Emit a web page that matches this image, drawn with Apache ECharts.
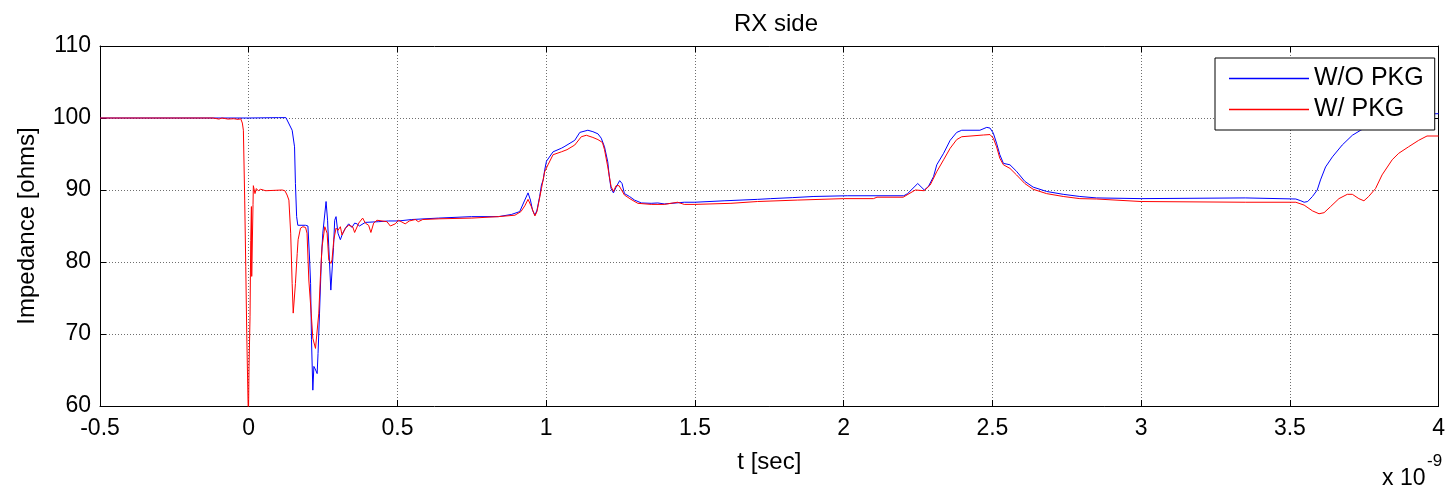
<!DOCTYPE html>
<html>
<head>
<meta charset="utf-8">
<script src="https://cdn.jsdelivr.net/npm/echarts@6/dist/echarts.min.js"></script>
<style>
html,body{margin:0;padding:0;background:#fff;}
#chart{width:1448px;height:488px;}
</style>
</head>
<body>
<div id="chart"></div>
<script>
// ---- Data (time in units of 1e-9 s, impedance in ohms) ----
var xTicks = [-0.5, 0, 0.5, 1, 1.5, 2, 2.5, 3, 3.5, 4];
var yTicks = [60, 70, 80, 90, 100, 110];

var woPkgT = [-0.5, 0.0, 0.10, 0.125, 0.13, 0.146, 0.154, 0.157, 0.161, 0.165, 0.191, 0.199, 0.205, 0.208,
  0.211, 0.2155, 0.219, 0.225, 0.230, 0.233, 0.238, 0.2445, 0.249, 0.256, 0.260, 0.265, 0.269, 0.276,
  0.280, 0.285, 0.289, 0.2935, 0.300, 0.308, 0.316, 0.325, 0.3305, 0.336, 0.347, 0.356, 0.364, 0.372,
  0.392, 0.437, 0.47, 0.504, 0.548, 0.638, 0.749, 0.839, 0.883, 0.911, 0.928, 0.939, 0.947, 0.954,
  0.962, 0.969, 0.978, 0.984, 0.990, 0.995, 1.001, 1.006, 1.023, 1.051, 1.060, 1.096, 1.113, 1.140,
  1.157, 1.174, 1.185, 1.196, 1.207, 1.212, 1.218, 1.226, 1.235, 1.247, 1.255, 1.263, 1.280, 1.297,
  1.320, 1.353, 1.375, 1.397, 1.464, 1.50, 1.598, 1.71, 1.755, 1.827, 1.9, 2.012, 2.202, 2.215, 2.249,
  2.271, 2.285, 2.302, 2.313, 2.336, 2.358, 2.380, 2.397, 2.458, 2.481, 2.492, 2.503, 2.514, 2.525,
  2.537, 2.559, 2.581, 2.609, 2.637, 2.682, 2.738, 2.794, 2.850, 3.0, 3.35, 3.52, 3.537, 3.548, 3.56,
  3.576, 3.592, 3.603, 3.620, 3.643, 3.676, 3.710, 3.738, 3.78, 3.85, 3.92, 4.0];
var woPkgZ = [100, 100, 100.05, 100.05, 100, 98.3, 96.0, 90.9, 86.3, 85.1, 85.1, 85.0, 80, 77.0,
  69.2, 62.2, 65.5, 65.0, 64.5, 67.3, 72.9, 80.7, 84.0, 86.8, 88.4, 85.8, 82.1, 76.1,
  76.1, 82.0, 85.8, 86.3, 84.0, 83.1, 84.0, 84.7, 85.0, 85.3, 84.8, 85.4, 85.3, 85.0,
  85.5, 85.6, 85.7, 85.7, 85.9, 86.1, 86.3, 86.3, 86.6, 87.0, 88.6, 89.6, 88.6, 87.2,
  86.5, 87.2, 89.1, 90.7, 91.4, 92.8, 94.0, 94.2, 95.3, 95.8, 96.0, 96.9, 98.0, 98.3,
  98.1, 97.8, 97.2, 96.0, 93.9, 91.9, 90.2, 89.6, 90.4, 91.3, 90.9, 89.5, 89.1, 88.6,
  88.2, 88.15, 88.2, 88.06, 88.3, 88.3, 88.5, 88.7, 88.8, 88.94, 89.1, 89.2, 89.2, 89.5, 90.9,
  90.0, 90.5, 91.85, 93.5, 95.1, 96.9, 98.0, 98.3, 98.3, 98.7, 98.6, 97.9, 96.5, 94.9,
  93.7, 93.5, 92.6, 91.2, 90.4, 89.8, 89.4, 89.1, 88.9, 88.8, 88.9, 88.75, 88.5, 88.3, 88.4,
  89.1, 90.0, 91.4, 93.2, 94.6, 96.25, 97.6, 98.3, 99.3, 100.1, 100.5, 100.6];

var wPkgT = [-0.5, -0.12, -0.10, -0.09, -0.07, -0.05, -0.035, -0.027, -0.0215, -0.018, -0.0135, -0.010,
  -0.0067, -0.0023, -0.001, 0.001, 0.0044, 0.0067, 0.009, 0.010, 0.012, 0.0144, 0.0155, 0.021, 0.0255,
  0.032, 0.040, 0.057, 0.1125, 0.1215, 0.129, 0.135, 0.141, 0.146, 0.1495, 0.155, 0.157, 0.163, 0.166,
  0.174, 0.182, 0.191, 0.196, 0.202, 0.210, 0.2155, 0.2245, 0.231, 0.2355, 0.241, 0.2465, 0.2557,
  0.2635, 0.269, 0.276, 0.280, 0.286, 0.2935, 0.300, 0.308, 0.3137, 0.325, 0.336, 0.3495, 0.356,
  0.3697, 0.383, 0.392, 0.403, 0.4107, 0.420, 0.431, 0.448, 0.4645, 0.476, 0.4926, 0.5037, 0.526,
  0.54, 0.56, 0.57, 0.585, 0.64, 0.75, 0.839, 0.895, 0.915, 0.928, 0.939, 0.95, 0.962, 0.969, 0.984,
  0.995, 1.006, 1.023, 1.051, 1.07, 1.096, 1.118, 1.135, 1.157, 1.174, 1.189, 1.196, 1.207, 1.218,
  1.226, 1.235, 1.245, 1.263, 1.285, 1.308, 1.353, 1.397, 1.442, 1.464, 1.50, 1.621, 1.71, 1.844,
  2.0, 2.10, 2.112, 2.20, 2.241, 2.271, 2.291, 2.313, 2.336, 2.358, 2.380, 2.397, 2.470, 2.492,
  2.503, 2.514, 2.525, 2.537, 2.559, 2.581, 2.609, 2.637, 2.682, 2.738, 2.794, 2.850, 3.0, 3.35,
  3.52, 3.548, 3.576, 3.598, 3.615, 3.637, 3.665, 3.693, 3.71, 3.732, 3.749, 3.765, 3.788, 3.810,
  3.844, 3.866, 3.899, 3.933, 3.961, 4.0];
var wPkgZ = [100, 100, 99.85, 100, 99.85, 99.9, 99.8, 99.9, 99.3, 98.3, 88.6, 79.4,
  70.1, 60.4, 58, 65.5, 72.4, 83.0, 87.7, 78.0, 78.0, 88.0, 90.6, 89.5, 90.2,
  89.9, 90.1, 89.9, 90.0, 89.9, 89.3, 88.6, 84.0, 77.0, 72.9, 72.9, 77.0, 81.2, 83.1,
  84.7, 84.9, 84.8, 84.0, 77.5, 72.9, 69.4, 68.0, 68.0, 72.9, 78.0, 82.1, 84.9,
  84.0, 80.3, 79.8, 80.3, 83.1, 84.7, 84.4, 84.9, 83.75, 84.7, 85.1, 84.9, 84.1,
  85.4, 86.1, 85.4, 85.1, 84.1, 85.4, 85.8, 85.7, 85.6, 85.0, 85.3, 85.8, 85.3,
  85.7, 85.9, 85.6, 85.9, 86.0, 86.1, 86.3, 86.5, 87.0, 87.8, 88.7, 87.7, 86.4, 87.0, 90.2,
  92.55, 93.5, 94.9, 95.3, 95.6, 96.25, 97.4, 97.6, 97.3, 97.0, 96.6, 95.6, 93.2, 90.5,
  89.8, 90.6, 90.6, 89.3, 88.7, 88.15, 88.0, 88.0, 88.3, 88.0, 88.0, 88.15, 88.4, 88.6,
  88.8, 88.8, 89.0, 89.0, 90.0, 89.9, 90.7, 92.55, 94.2, 95.8, 97.0, 97.4, 97.64, 97.7,
  97.2, 96.0, 94.4, 93.5, 93.0, 92.1, 90.9, 90.1, 89.5, 89.1, 88.8, 88.75, 88.4, 88.3,
  88.3, 87.9, 87.1, 86.7, 86.85, 87.7, 88.8, 89.4, 89.4, 88.8, 88.5, 89.1, 90.2, 92.1,
  94.2, 95.1, 96.0, 96.9, 97.5, 97.5];

function pairs(t, z) { return t.map(function (v, i) { return [v, z[i]]; }); }

var FONT = '"Liberation Sans", Arial, sans-serif';
var chart = echarts.init(document.getElementById('chart'), null, { renderer: 'canvas' });

var gridLine = { show: true, lineStyle: { color: '#6e6e6e', type: [1, 2], width: 1 } };
var axisLineBlack = { show: true, onZero: false, lineStyle: { color: '#000', width: 1 } };

chart.setOption({
  animation: false,
  backgroundColor: '#fff',
  title: {
    text: 'RX side', left: 771, top: 7, textAlign: 'center',
    textStyle: { fontFamily: FONT, fontSize: 24, fontWeight: 'normal', color: '#000' }
  },
  grid: { left: 100, right: 6, top: 46, bottom: 82 },
  legend: {
    orient: 'vertical', left: 1215, top: 58,
    backgroundColor: '#fff', borderColor: '#000', borderWidth: 1,
    padding: [8, 11, 8, 14], itemGap: 6, itemWidth: 80, itemHeight: 1.5,
    icon: 'rect',
    textStyle: { fontFamily: FONT, fontSize: 25, color: '#000', lineHeight: 25 },
    data: ['W/O PKG', 'W/ PKG']
  },
  xAxis: [{
    type: 'value', min: xTicks[0], max: xTicks[xTicks.length - 1], interval: 0.5,
    position: 'bottom',
    name: 't [sec]', nameLocation: 'middle', nameGap: 44,
    nameTextStyle: { fontFamily: FONT, fontSize: 24, color: '#000' },
    axisLine: axisLineBlack,
    axisTick: { show: true, inside: true, length: 6, lineStyle: { color: '#000' } },
    axisLabel: { fontFamily: FONT, fontSize: 23, color: '#000', margin: 11,
      formatter: function (v) { return String(Math.round(v * 10) / 10); } },
    splitLine: gridLine
  }, {
    type: 'value', min: xTicks[0], max: xTicks[xTicks.length - 1], interval: 0.5,
    position: 'top',
    axisLine: axisLineBlack,
    axisTick: { show: true, inside: true, length: 6, lineStyle: { color: '#000' } },
    axisLabel: { show: false }, splitLine: { show: false }
  }],
  yAxis: [{
    type: 'value', min: yTicks[0], max: yTicks[yTicks.length - 1], interval: 10,
    position: 'left',
    name: 'Impedance [ohms]', nameLocation: 'middle', nameGap: 61, nameRotate: 90,
    nameTextStyle: { fontFamily: FONT, fontSize: 24, color: '#000' },
    axisLine: axisLineBlack,
    axisTick: { show: true, inside: true, length: 6, lineStyle: { color: '#000' } },
    axisLabel: { fontFamily: FONT, fontSize: 23, color: '#000', margin: 9 },
    splitLine: gridLine
  }, {
    type: 'value', min: yTicks[0], max: yTicks[yTicks.length - 1], interval: 10,
    position: 'right',
    axisLine: axisLineBlack,
    axisTick: { show: true, inside: true, length: 6, lineStyle: { color: '#000' } },
    axisLabel: { show: false }, splitLine: { show: false }
  }],
  series: [{
    name: 'W/O PKG', type: 'line', xAxisIndex: 0, yAxisIndex: 0,
    data: pairs(woPkgT, woPkgZ), symbol: 'none', clip: true,
    lineStyle: { color: '#0000ff', width: 1 }, itemStyle: { color: '#0000ff' }
  }, {
    name: 'W/ PKG', type: 'line', xAxisIndex: 0, yAxisIndex: 0,
    data: pairs(wPkgT, wPkgZ), symbol: 'none', clip: true,
    lineStyle: { color: '#ff0000', width: 1 }, itemStyle: { color: '#ff0000' }
  }],
  graphic: [{
    type: 'text', left: 1382, top: 467,
    style: { text: 'x 10', font: '23px ' + FONT, fill: '#000' }
  }, {
    type: 'text', left: 1427, top: 453,
    style: { text: '-9', font: '17px ' + FONT, fill: '#000' }
  }]
});
</script>
</body>
</html>
